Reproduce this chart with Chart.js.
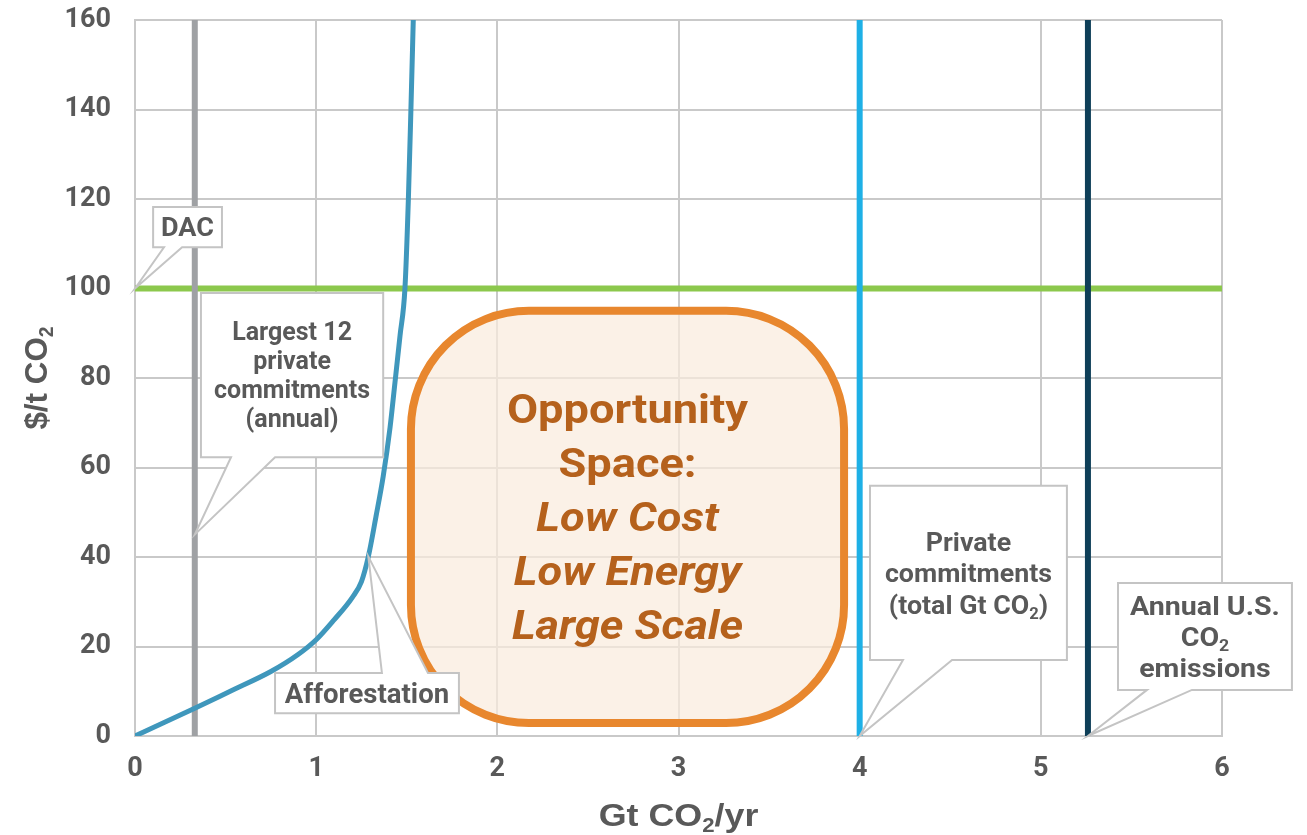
<!DOCTYPE html>
<html>
<head>
<meta charset="utf-8">
<title>Carbon removal opportunity space</title>
<script src="https://cdn.jsdelivr.net/npm/chart.js@4.4.1/dist/chart.umd.min.js"></script>
<style>
  html, body { margin: 0; padding: 0; background: #ffffff; }
  #wrap { width: 1307px; height: 835px; position: relative; }
</style>
</head>
<body>
<div id="wrap"><canvas id="chart" width="1307" height="835"></canvas></div>
<script>
// ---- data -------------------------------------------------------------
// Afforestation marginal cost curve (Gt CO2/yr vs $/t CO2)
const curveGt   = [0, 0.33, 0.52, 0.75, 0.9, 1.0, 1.1, 1.2, 1.25, 1.288, 1.33, 1.37, 1.408, 1.435, 1.463, 1.49, 1.509, 1.523, 1.536];
const curveCost = [0, 6.2, 9.9, 14.4, 18.2, 21.5, 26, 31, 34.5, 40.1, 49, 58, 69, 79, 89.5, 100, 120, 140, 160];

// Direct air capture price level ($/t CO2)
const dacPrice = 100;

// Reference volumes (Gt CO2), drawn as vertical markers
const markerNames = ['Largest 12 private commitments (annual)', 'Private commitments (total Gt CO₂)', 'Annual U.S. CO₂ emissions'];
const markerGt    = [0.33, 4.0, 5.26];

// Axis ranges
const gtTicks   = [0, 1, 2, 3, 4, 5, 6];
const costTicks = [0, 20, 40, 60, 80, 100, 120, 140, 160];

// Label texts
const dacLabel        = ['DAC'];
const largestLabel    = ['Largest 12', 'private', 'commitments', '(annual)'];
const afforestLabel   = ['Afforestation'];
const privateLabel    = ['Private', 'commitments', '(total Gt CO₂)'];
const usLabel         = ['Annual U.S.', 'CO₂', 'emissions'];
const opportunityText = ['Opportunity', 'Space:', 'Low Cost', 'Low Energy', 'Large Scale'];
const xTitle = 'Gt CO₂/yr';
const yTitle = '$/t CO₂';

// ---- styles -----------------------------------------------------------
const TEXT_GREY    = '#595959';
const GRID_GREY    = '#c9c9c9';
const markerColors = ['#9fa1a4', '#1eb0e6', '#0e3f58'];
const dacColor     = '#8cc84d';
const curveColor   = '#3f97bc';
const oppStroke    = '#e8872e';
const oppFill      = 'rgba(250, 236, 222, 0.72)';
const oppText      = '#b5611c';
const UI_FONT      = 'Roboto, "Liberation Sans", sans-serif';
const TITLE_FONT   = '"Liberation Sans", Arial, sans-serif';

// ---- rich text helpers (renders ₂ as a lowered, smaller 2) -------------
function fontStr(size, italic, family) {
  return (italic ? 'italic ' : '') + 'bold ' + size + 'px ' + (family || UI_FONT);
}
function pieces(text) {
  const out = [];
  let buf = '';
  for (const ch of text) {
    if (ch === '₂') {
      if (buf) out.push({ t: buf, sub: false });
      out.push({ t: '2', sub: true });
      buf = '';
    } else {
      buf += ch;
    }
  }
  if (buf) out.push({ t: buf, sub: false });
  return out;
}
function measureRich(ctx, text, size, italic, family) {
  let w = 0;
  for (const p of pieces(text)) {
    ctx.font = fontStr(p.sub ? size * 0.62 : size, italic, family);
    w += ctx.measureText(p.t).width;
  }
  return w;
}
// draws text centred on cx; sx widens the glyphs horizontally
function drawRich(ctx, text, cx, baseline, size, italic, family, sx) {
  sx = sx || 1;
  const w = measureRich(ctx, text, size, italic, family);
  ctx.save();
  ctx.translate(cx - (w * sx) / 2, baseline);
  ctx.scale(sx, 1);
  ctx.textAlign = 'left';
  ctx.textBaseline = 'alphabetic';
  let x = 0;
  for (const p of pieces(text)) {
    const s = p.sub ? size * 0.62 : size;
    ctx.font = fontStr(s, italic, family);
    ctx.fillText(p.t, x, p.sub ? size * 0.2 : 0);
    x += ctx.measureText(p.t).width;
  }
  ctx.restore();
}

// ---- annotations (positions in data units) -----------------------------
const callouts = [
  { lines: dacLabel,      box: [0.10, 118.2, 0.48, 109.2], side: 'bottom', base: [0.16, 0.26],   tip: [0, dacPrice],       size: 26, lh: 30,   sx: 1.04 },
  { lines: largestLabel,  box: [0.364, 99.0, 1.37, 62.3],  side: 'bottom', base: [0.53, 0.773],  tip: [markerGt[0], 45],  size: 25, lh: 29,   sx: 1.0 },
  { lines: afforestLabel, box: [0.773, 14.1, 1.788, 5.1],  side: 'top',    base: [1.363, 1.617], tip: [1.288, 40.1],      size: 27, lh: 30,   sx: 1.02 },
  { lines: privateLabel,  box: [4.057, 55.9, 5.144, 17.0], side: 'bottom', base: [4.239, 4.51],  tip: [markerGt[1], 0],   size: 26, lh: 31.5, sx: 1.03 },
  { lines: usLabel,       box: [5.426, 34.2, 6.386, 10.3], side: 'bottom', base: [5.586, 5.834], tip: [markerGt[2], 0],   size: 26, lh: 31,   sx: 1.1 }
];
const opportunityBox = { gt: [1.501, 3.936], cost: [95.9, 2.0] };

const opportunityPlugin = {
  id: 'opportunity',
  beforeDatasetsDraw(chart) {
    const { ctx, scales: { x, y } } = chart;
    const lw = 8;
    const L = x.getPixelForValue(opportunityBox.gt[0]) + lw / 2;
    const R = x.getPixelForValue(opportunityBox.gt[1]) - lw / 2;
    const T = y.getPixelForValue(opportunityBox.cost[0]) + lw / 2;
    const B = y.getPixelForValue(opportunityBox.cost[1]) - lw / 2;
    ctx.save();
    ctx.beginPath();
    ctx.roundRect(L, T, R - L, B - T, 118);
    ctx.fillStyle = oppFill;
    ctx.fill();
    ctx.lineWidth = lw;
    ctx.strokeStyle = oppStroke;
    ctx.stroke();
    ctx.fillStyle = oppText;
    const cx = (L + R) / 2, cy = (T + B) / 2;
    const size = 40, lh = 54;
    opportunityText.forEach((line, i) => {
      const base = cy + (i - (opportunityText.length - 1) / 2) * lh + size * 0.355;
      drawRich(ctx, line, cx, base, size, i >= 2, UI_FONT, 1.13);
    });
    ctx.restore();
  }
};

const calloutPlugin = {
  id: 'callouts',
  afterDatasetsDraw(chart) {
    const { ctx, scales: { x, y } } = chart;
    ctx.save();
    for (const c of callouts) {
      const L = x.getPixelForValue(c.box[0]), R = x.getPixelForValue(c.box[2]);
      const T = y.getPixelForValue(c.box[1]), B = y.getPixelForValue(c.box[3]);
      const b1 = x.getPixelForValue(c.base[0]), b2 = x.getPixelForValue(c.base[1]);
      const tx = x.getPixelForValue(c.tip[0]), ty = y.getPixelForValue(c.tip[1]);
      ctx.beginPath();
      if (c.side === 'bottom') {
        ctx.moveTo(L, T); ctx.lineTo(R, T); ctx.lineTo(R, B);
        ctx.lineTo(b2, B); ctx.lineTo(tx, ty); ctx.lineTo(b1, B);
        ctx.lineTo(L, B);
      } else {
        ctx.moveTo(L, T); ctx.lineTo(b1, T); ctx.lineTo(tx, ty); ctx.lineTo(b2, T);
        ctx.lineTo(R, T); ctx.lineTo(R, B); ctx.lineTo(L, B);
      }
      ctx.closePath();
      ctx.fillStyle = '#ffffff';
      ctx.fill();
      ctx.lineWidth = 2;
      ctx.lineJoin = 'miter';
      ctx.strokeStyle = '#c4c4c4';
      ctx.stroke();
      ctx.fillStyle = TEXT_GREY;
      const cx = (L + R) / 2, cy = (T + B) / 2;
      c.lines.forEach((line, i) => {
        const base = cy + (i - (c.lines.length - 1) / 2) * c.lh + c.size * 0.355;
        drawRich(ctx, line, cx, base, c.size, false, UI_FONT, c.sx);
      });
    }
    ctx.restore();
  }
};

const axisTitlePlugin = {
  id: 'axisTitles',
  afterDraw(chart) {
    const { ctx, chartArea } = chart;
    ctx.save();
    ctx.fillStyle = TEXT_GREY;
    drawRich(ctx, xTitle, (chartArea.left + chartArea.right) / 2, 826, 32, false, TITLE_FONT, 1.12);
    ctx.translate(47, (chartArea.top + chartArea.bottom) / 2);
    ctx.rotate(-Math.PI / 2);
    drawRich(ctx, yTitle, 0, 0, 32, false, TITLE_FONT, 0.98);
    ctx.restore();
  }
};

// ---- datasets ---------------------------------------------------------
const curvePoints = curveGt.map((g, i) => ({ x: g, y: curveCost[i] }));
const costMin = costTicks[0], costMax = costTicks[costTicks.length - 1];
const gtMin = gtTicks[0], gtMax = gtTicks[gtTicks.length - 1];

const datasets = [
  {
    label: 'Afforestation',
    data: curvePoints,
    borderColor: curveColor,
    borderWidth: 5,
    cubicInterpolationMode: 'monotone',
    order: 0
  },
  ...markerGt.map((g, i) => ({
    label: markerNames[i],
    data: [{ x: g, y: costMin }, { x: g, y: costMax }],
    borderColor: markerColors[i],
    borderWidth: 6,
    order: 1
  })),
  {
    label: 'DAC',
    data: [{ x: gtMin, y: dacPrice }, { x: gtMax, y: dacPrice }],
    borderColor: dacColor,
    borderWidth: 6,
    order: 2
  }
];

new Chart(document.getElementById('chart'), {
  type: 'scatter',
  data: { datasets },
  options: {
    responsive: false,
    animation: false,
    showLine: true,
    layout: { padding: { top: 20, right: 85, left: 0, bottom: 0 } },
    elements: { point: { radius: 0, hoverRadius: 0 }, line: { borderCapStyle: 'butt' } },
    plugins: { legend: { display: false }, tooltip: { enabled: false } },
    scales: {
      x: {
        type: 'linear',
        min: gtMin, max: gtMax,
        ticks: { stepSize: 1, color: TEXT_GREY, font: { family: UI_FONT, size: 27, weight: 'bold' }, padding: 17 },
        grid: { color: GRID_GREY, lineWidth: 2, drawTicks: false },
        border: { color: GRID_GREY, width: 2 },
        afterFit(scale) { scale.height = 99; }
      },
      y: {
        type: 'linear',
        min: costMin, max: costMax,
        // label gap comes from an invisible tick mark so the top of the plot is not pushed down
        ticks: { stepSize: 20, color: TEXT_GREY, font: { family: UI_FONT, size: 27, weight: 'bold' }, padding: 0 },
        grid: { color: GRID_GREY, lineWidth: 2, drawTicks: true, tickLength: 24, tickColor: 'rgba(0,0,0,0)' },
        border: { color: GRID_GREY, width: 2 },
        afterFit(scale) { scale.width = 135; }
      }
    }
  },
  plugins: [opportunityPlugin, calloutPlugin, axisTitlePlugin]
});
</script>
</body>
</html>
